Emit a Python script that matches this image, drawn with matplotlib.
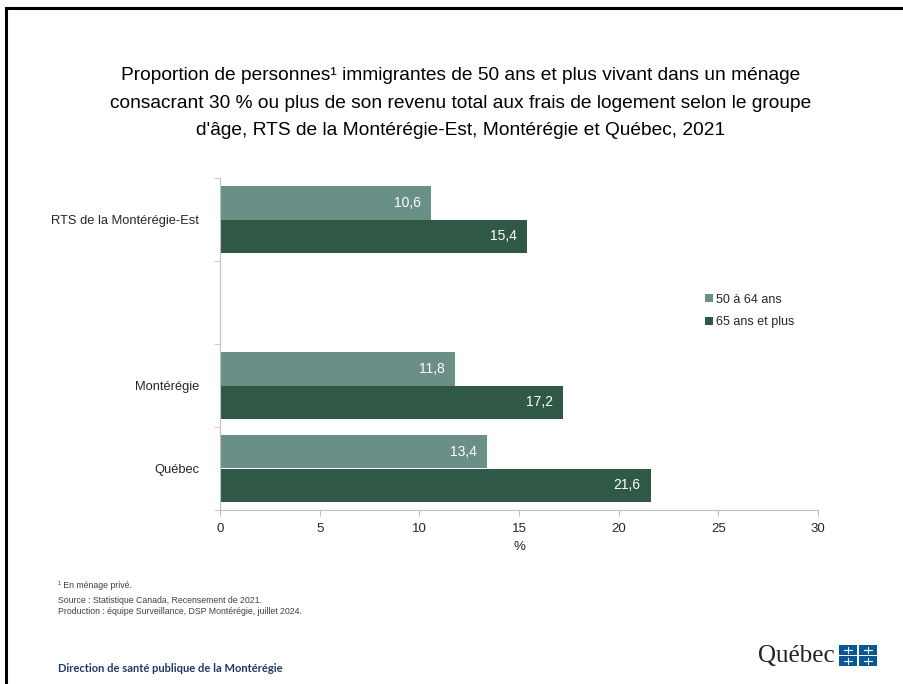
import numpy as np
import matplotlib
matplotlib.use('Agg')
import matplotlib.pyplot as plt
from matplotlib.patches import Rectangle
from matplotlib.lines import Line2D

plt.rcParams['font.family'] = ['Liberation Sans', 'DejaVu Sans']

# data
categories = ['RTS de la Montérégie-Est', '', 'Montérégie', 'Québec']
age_50_64 = [10.6, np.nan, 11.8, 13.4]
age_65_plus = [15.4, np.nan, 17.2, 21.6]
series_names = ['50 à 64 ans', '65 ans et plus']
xticks = [0, 5, 10, 15, 20, 25, 30]

c_light = '#6A8F87'
c_dark = '#2F5946'
grid_gray = '#BFBFBF'

fig = plt.figure(figsize=(9.04, 6.84), dpi=100)
ax = fig.add_axes([220/904, 1-510/684, 598/904, 332/684])

y = np.arange(len(categories))
h = 0.4
b1 = ax.barh(y - h/2, age_50_64, height=h, color=c_light, label=series_names[0])
b2 = ax.barh(y + h/2, age_65_plus, height=h, color=c_dark, label=series_names[1])

for bars, vals in ((b1, age_50_64), (b2, age_65_plus)):
    for rect, v in zip(bars, vals):
        if np.isnan(v):
            continue
        ax.text(v - 0.5, rect.get_y() + rect.get_height()/2,
                f'{v:.1f}'.replace('.', ','), ha='right', va='center',
                color='white', fontsize=10)

ax.set_xlim(0, 30)
ax.set_ylim(len(categories) - 0.5, -0.5)
ax.set_xticks(xticks)
ax.set_xticklabels([str(t) for t in xticks], fontsize=9.5, color='#262626')
ax.set_yticks(y)
ax.set_yticklabels(categories, fontsize=9.3, color='#262626')
ax.set_yticks(np.arange(len(categories) + 1) - 0.5, minor=True)
ax.tick_params(axis='y', which='major', length=0, pad=15)
ax.tick_params(axis='y', which='minor', length=4, color=grid_gray, direction='out')
ax.tick_params(axis='x', length=4, color=grid_gray, direction='out', pad=5)
ax.set_xlabel('%', fontsize=9.5, color='#262626', labelpad=5)

for s in ('top', 'right'):
    ax.spines[s].set_visible(False)
ax.spines['left'].set_color(grid_gray)
ax.spines['bottom'].set_color(grid_gray)

leg = ax.legend(loc='center left', bbox_to_anchor=(694/904, 1-311/684),
                bbox_transform=fig.transFigure, frameon=False, fontsize=9,
                handlelength=0.6, handleheight=0.6, handletextpad=0.3,
                labelspacing=0.85)
for t in leg.get_texts():
    t.set_color('#262626')

fig.text(461/904, 1-103/684,
         "Proportion de personnes¹ immigrantes de 50 ans et plus vivant dans un ménage\n"
         "consacrant 30 % ou plus de son revenu total aux frais de logement selon le groupe\n"
         "d'âge, RTS de la Montérégie-Est, Montérégie et Québec, 2021",
         ha='center', va='center', fontsize=13.8, linespacing=1.8, color='black')

fig.text(58/904, 1-585/684, '¹ En ménage privé.', fontsize=6.3, color='#404040', va='center')
fig.text(58/904, 1-606/684,
         'Source : Statistique Canada, Recensement de 2021.\n'
         'Production : équipe Surveillance, DSP Montérégie, juillet 2024.',
         fontsize=6.3, color='#404040', va='center', linespacing=1.15)
fig.text(58/904, 1-668/684, 'Direction de santé publique de la Montérégie',
         fontsize=8, fontweight='bold', color='#1F3864', va='center', family='Lato')

# Québec signature
fig.text(835/904, 1-656/684, 'Québec', fontsize=18, ha='right', va='center',
         color='#222222', family='Liberation Serif')
qb = '#095797'
for i in range(2):
    for j in range(2):
        x0 = (839 + i*20)/904
        y0 = 1 - (645 + j*11)/684
        fig.add_artist(Rectangle((x0, y0 - 10/684), 18/904, 10/684,
                                 transform=fig.transFigure, color=qb, lw=0))
        fig.add_artist(Line2D([x0 + 9/904, x0 + 9/904], [y0 - 8/684, y0 - 2/684],
                              transform=fig.transFigure, color='white', lw=0.8))
        fig.add_artist(Line2D([x0 + 5/904, x0 + 13/904], [y0 - 5/684, y0 - 5/684],
                              transform=fig.transFigure, color='white', lw=0.8))

# frame lines
fig.add_artist(Line2D([6/904, 1], [1-8/684, 1-8/684], transform=fig.transFigure,
                      color='black', lw=2.2))
fig.add_artist(Line2D([6/904, 6/904], [0, 1-8/684], transform=fig.transFigure,
                      color='black', lw=2.2))

fig.savefig('out.png', dpi=100)
